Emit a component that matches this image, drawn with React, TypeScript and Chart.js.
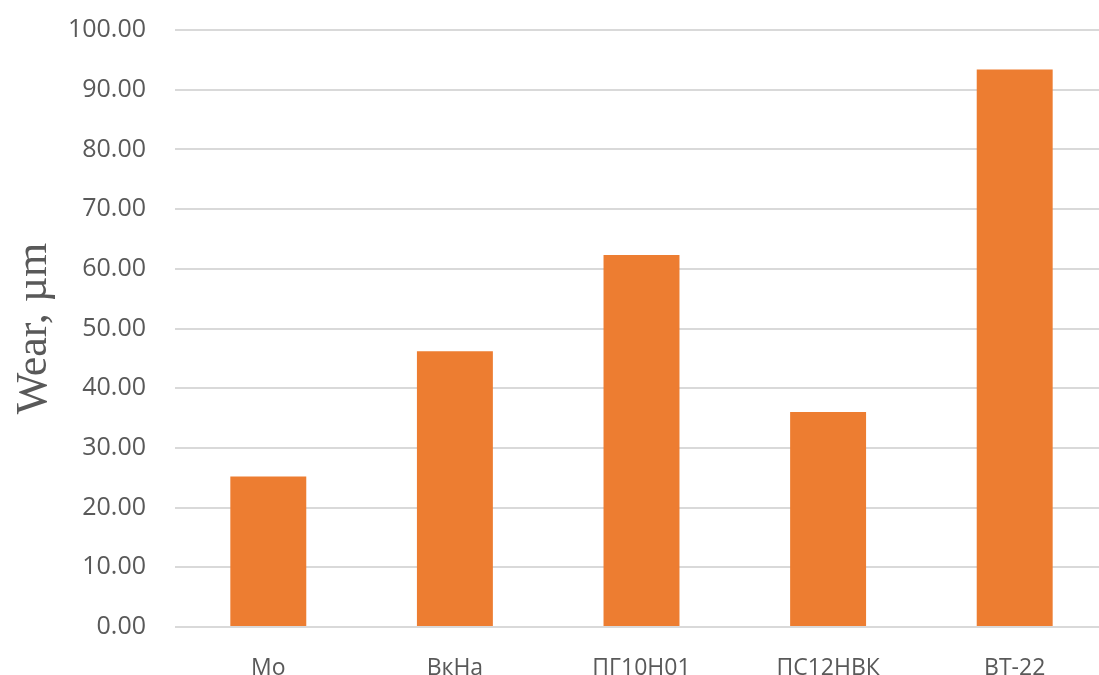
import React, { useEffect, useRef } from "react";
import { Chart, registerables } from "chart.js";

Chart.register(...registerables);

const categories = ["Mo", "ВкНа", "ПГ10Н01", "ПС12НВК", "ВТ-22"];
const wear = [25.2, 46.2, 62.3, 36.0, 93.4];
const yTitle = "Wear, µm";

export default function App() {
  const ref = useRef<HTMLCanvasElement | null>(null);
  useEffect(() => {
    document.body.style.margin = "0";
    const chart = new Chart(ref.current as HTMLCanvasElement, {
      type: "bar",
      data: {
        labels: categories,
        datasets: [
          {
            data: wear,
            backgroundColor: "#ED7D31",
            borderWidth: 0,
            barPercentage: 0.407,
            categoryPercentage: 1,
          },
        ],
      },
      options: {
        responsive: false,
        animation: false,
        layout: { padding: { top: 30, left: 0, right: 0, bottom: 0 } },
        plugins: { legend: { display: false }, tooltip: { enabled: false } },
        scales: {
          x: {
            grid: { display: false },
            border: { display: false },
            ticks: {
              color: "#595959",
              font: { family: "Open Sans", size: 23 },
              padding: 20,
            },
            afterFit: (s: any) => {
              s.height = 48;
              s.paddingLeft = 0;
              s.paddingRight = 0;
            },
          },
          y: {
            min: 0,
            max: 100,
            grid: { color: "#d9d9d9", lineWidth: 2, drawTicks: false },
            border: { display: false },
            ticks: {
              stepSize: 10,
              color: "#595959",
              font: { family: "Open Sans", size: 25 },
              padding: 29,
              callback: (v: any) => Number(v).toFixed(2),
            },
            title: {
              display: true,
              text: yTitle,
              color: "#595959",
              font: { family: "Liberation Serif", size: 44 },
              padding: { top: 8, bottom: 0 },
            },
            afterFit: (s: any) => {
              s.width = 175;
              s.paddingTop = 0;
              s.paddingBottom = 0;
            },
          },
        },
      },
    });
    return () => chart.destroy();
  }, []);
  return (
    <div style={{ position: "absolute", left: 0, top: 0, width: 1099, height: 675, overflow: "hidden", background: "#fff" }}>
      <canvas ref={ref} width={1108} height={675} style={{ display: "block" }} />
    </div>
  );
}
